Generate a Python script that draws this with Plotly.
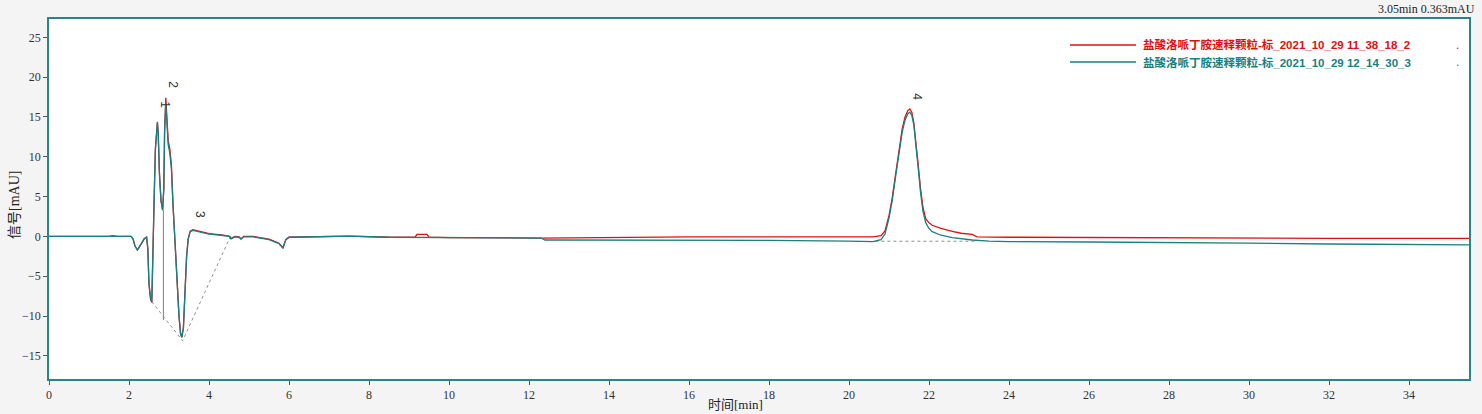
import plotly.graph_objects as go

# ---------------- data ----------------
teal_t = [0, 1.5, 2.05, 2.1, 2.15, 2.21, 2.3, 2.38, 2.44, 2.47, 2.5, 2.54, 2.57, 2.6, 2.63, 2.66, 2.69,
          2.71, 2.73, 2.76, 2.8, 2.84, 2.87, 2.89, 2.92, 2.95, 2.98, 3.02, 3.06, 3.1, 3.15, 3.2, 3.25,
          3.29, 3.32, 3.36, 3.4, 3.44, 3.48, 3.53, 3.6, 3.8, 4.0, 4.3, 4.5, 4.55, 4.65, 4.75, 4.8, 4.87,
          5.1, 5.5, 5.75, 5.85, 5.92, 6.0, 7.0, 7.5, 8.5, 10, 12.3, 12.4, 14, 16, 18, 20, 20.6, 20.8,
          20.9, 21.0, 21.08, 21.17, 21.25, 21.33, 21.4, 21.47, 21.52, 21.57, 21.62, 21.67, 21.73, 21.79,
          21.85, 21.92, 22.0, 22.08, 22.3, 22.58, 23.08, 23.5,
          24, 26, 28, 30, 32, 34, 35.55]
teal_v = [0, 0, 0, -0.3, -1.2, -1.7, -1.0, -0.3, -0.1, -1.5, -6.0, -7.8, -8.2, -3.0, 5.0, 11.0, 14.0,
          14.4, 13.0, 8.0, 4.5, 3.3, 6.0, 13.0, 16.8, 13.0, 11.5, 10.5, 8.5, 4.0, -1.0, -6.0, -10.0,
          -12.3, -12.7, -11.5, -7.0, -2.5, -0.3, 0.6, 0.75, 0.5, 0.3, 0.15, 0.0, -0.3, -0.05, -0.1, -0.35, -0.05,
          -0.05, -0.4, -0.9, -1.5, -0.4, -0.1, -0.05, 0.05, -0.1, -0.15, -0.2, -0.45, -0.45, -0.5, -0.5, -0.6, -0.65, -0.4,
          0.3, 2.3, 4.5, 7.7, 10.7, 13.1, 14.6, 15.4, 15.6, 15.2, 14.0, 11.8, 8.6, 5.5,
          3.1, 1.7, 1.0, 0.6, 0.15, -0.15, -0.45, -0.6,
          -0.65, -0.7, -0.75, -0.85, -0.95, -1.05, -1.05]

red_t = [0, 1.5, 1.6, 1.7, 2.05, 2.1, 2.15, 2.21, 2.3, 2.38, 2.44, 2.47, 2.5, 2.54, 2.57, 2.6, 2.63, 2.66, 2.69,
         2.71, 2.73, 2.76, 2.8, 2.84, 2.87, 2.89, 2.92, 2.95, 2.98, 3.02, 3.06, 3.1, 3.15, 3.2, 3.25,
         3.29, 3.32, 3.36, 3.4, 3.44, 3.48, 3.53, 3.6, 3.8, 4.0, 4.3, 4.5, 4.55, 4.65, 4.75, 4.8, 4.87,
         5.1, 5.5, 5.75, 5.85, 5.92, 6.0, 7.0, 7.5, 8.5, 9.15, 9.2, 9.45, 9.5, 10, 12.3, 14, 16, 18, 20, 20.6, 20.8,
         20.9, 21.0, 21.08, 21.17, 21.25, 21.33, 21.4, 21.47, 21.52, 21.57, 21.62, 21.67, 21.73, 21.79,
         21.85, 21.92, 22.0, 22.08, 22.3, 22.58, 22.8, 23.08, 23.2,
         24, 26, 28, 30, 32, 34, 35.55]
red_v = [0, 0, 0.1, 0, 0, -0.3, -1.2, -1.7, -1.0, -0.3, -0.1, -1.5, -6.0, -7.9, -8.3, -3.0, 5.0, 11.0, 14.0,
         14.3, 13.0, 8.0, 4.5, 3.3, 6.0, 13.5, 17.4, 13.5, 12.0, 11.0, 9.0, 4.0, -1.0, -6.0, -10.0,
         -12.2, -12.6, -11.5, -7.0, -2.5, -0.3, 0.65, 0.85, 0.6, 0.35, 0.2, 0.05, -0.25, 0.0, -0.05, -0.3, 0.0,
         0.0, -0.35, -0.85, -1.4, -0.4, -0.1, 0.0, 0.05, -0.1, -0.1, 0.25, 0.25, -0.1, -0.15, -0.2, -0.1, -0.05, -0.05, -0.05, -0.05, 0.1,
         0.7, 2.6, 4.8, 8.0, 11.0, 13.5, 15.0, 15.8, 16.0, 15.6, 14.3, 12.2, 9.0, 5.9,
         3.6, 2.2, 1.7, 1.4, 1.0, 0.65, 0.4, 0.25, -0.05,
         -0.1, -0.15, -0.2, -0.2, -0.25, -0.25, -0.25]

# integration baselines and drop lines
base1_t = [2.57, 3.34, 4.55]
base1_v = [-8.2, -13.1, 0.15]
base4_t = [20.66, 23.13]
base4_v = [-0.6, -0.6]
drop_t = [2.86, 2.86]
drop_v = [3.3, -10.5]

peak_labels = ["1", "2", "3", "4"]
peak_t = [2.9, 3.1, 3.78, 21.7]
peak_v = [16.6, 19.1, 2.8, 17.6]

series_names = ["盐酸洛哌丁胺速释颗粒-标_2021_10_29 11_38_18_2",
                "盐酸洛哌丁胺速释颗粒-标_2021_10_29 12_14_30_3"]
series_colors = ["#e01010", "#1a7f80"]
cursor_text = "3.05min 0.363mAU"
x_title = "时间[min]"
y_title = "信号[mAU]"

x_ticks = list(range(0, 36, 2))
y_ticks = [-15, -10, -5, 0, 5, 10, 15, 20, 25]

# ---------------- figure ----------------
L, R, T, B = 49, 13, 19, 35
PW, PH = 1482 - L - R, 414 - T - B


def px_x(p):
    return (p - L) / PW


def px_y(p):
    return (414 - B - p) / PH


fig = go.Figure()
fig.add_trace(go.Scatter(x=base1_t, y=base1_v, mode="lines",
                         line=dict(color="#909090", width=1, dash="dot"), showlegend=False, hoverinfo="skip"))
fig.add_trace(go.Scatter(x=base4_t, y=base4_v, mode="lines",
                         line=dict(color="#909090", width=1, dash="dot"), showlegend=False, hoverinfo="skip"))
fig.add_trace(go.Scatter(x=drop_t, y=drop_v, mode="lines",
                         line=dict(color="#808080", width=1), showlegend=False, hoverinfo="skip"))
fig.add_trace(go.Scatter(x=red_t, y=red_v, mode="lines", name=series_names[0],
                         line=dict(color=series_colors[0], width=1.3), showlegend=False))
fig.add_trace(go.Scatter(x=teal_t, y=teal_v, mode="lines", name=series_names[1],
                         line=dict(color=series_colors[1], width=1.3), showlegend=False))

for lab, t, v in zip(peak_labels, peak_t, peak_v):
    fig.add_annotation(x=t, y=v, text=lab, showarrow=False, textangle=90,
                       font=dict(family="Liberation Sans", size=12, color="#333333"))

# manual legend
for i, (nm, col) in enumerate(zip(series_names, series_colors)):
    yp = px_y(45 + 17 * i)
    fig.add_shape(type="line", xref="paper", yref="paper",
                  x0=px_x(1070), x1=px_x(1136), y0=yp, y1=yp,
                  line=dict(color=col, width=1.3))
    fig.add_annotation(xref="paper", yref="paper", x=px_x(1141), y=yp, xanchor="left",
                       yanchor="middle", text="<b>" + nm + "</b>", showarrow=False,
                       font=dict(family="Liberation Sans, Noto Sans CJK SC", size=11.5, color=col))
    fig.add_annotation(xref="paper", yref="paper", x=px_x(1457), y=yp, xanchor="center",
                       yanchor="middle", text=".", showarrow=False,
                       font=dict(family="Liberation Sans", size=12, color=col))

fig.add_annotation(xref="paper", yref="paper", x=px_x(1477), y=px_y(9),
                   xanchor="right", yanchor="middle", text=cursor_text, showarrow=False,
                   font=dict(family="Liberation Serif", size=12, color="#222222"))

fig.add_annotation(xref="paper", yref="paper", x=px_x(735), y=px_y(404),
                   xanchor="center", yanchor="middle", text=x_title, showarrow=False,
                   font=dict(family="Liberation Serif, Noto Sans CJK SC", size=13, color="#222222"))
fig.add_annotation(xref="paper", yref="paper", x=px_x(15), y=px_y(205), textangle=-90,
                   xanchor="center", yanchor="middle", text=y_title, showarrow=False,
                   font=dict(family="Liberation Serif, Noto Sans CJK SC", size=14, color="#222222"))

axis_common = dict(showline=True, mirror=True, linecolor="#2a8585", linewidth=1.5,
                   showgrid=False, zeroline=False, ticks="outside", ticklen=4, automargin=False,
                   tickcolor="#555555", tickfont=dict(family="Liberation Serif", size=12, color="#333333"))

fig.update_xaxes(range=[0, 35.5], tickvals=x_ticks, **axis_common)
fig.update_yaxes(range=[-17.9, 27.3], tickvals=y_ticks, **axis_common)

fig.update_layout(width=1482, height=414, paper_bgcolor="#f4f4f4", plot_bgcolor="#ffffff",
                  margin=dict(l=L, r=R, t=T, b=B, autoexpand=False), showlegend=False)

fig.write_html("out.html", config={"displayModeBar": False},
               post_script="document.body.style.margin='0';document.body.style.overflow='hidden';")
